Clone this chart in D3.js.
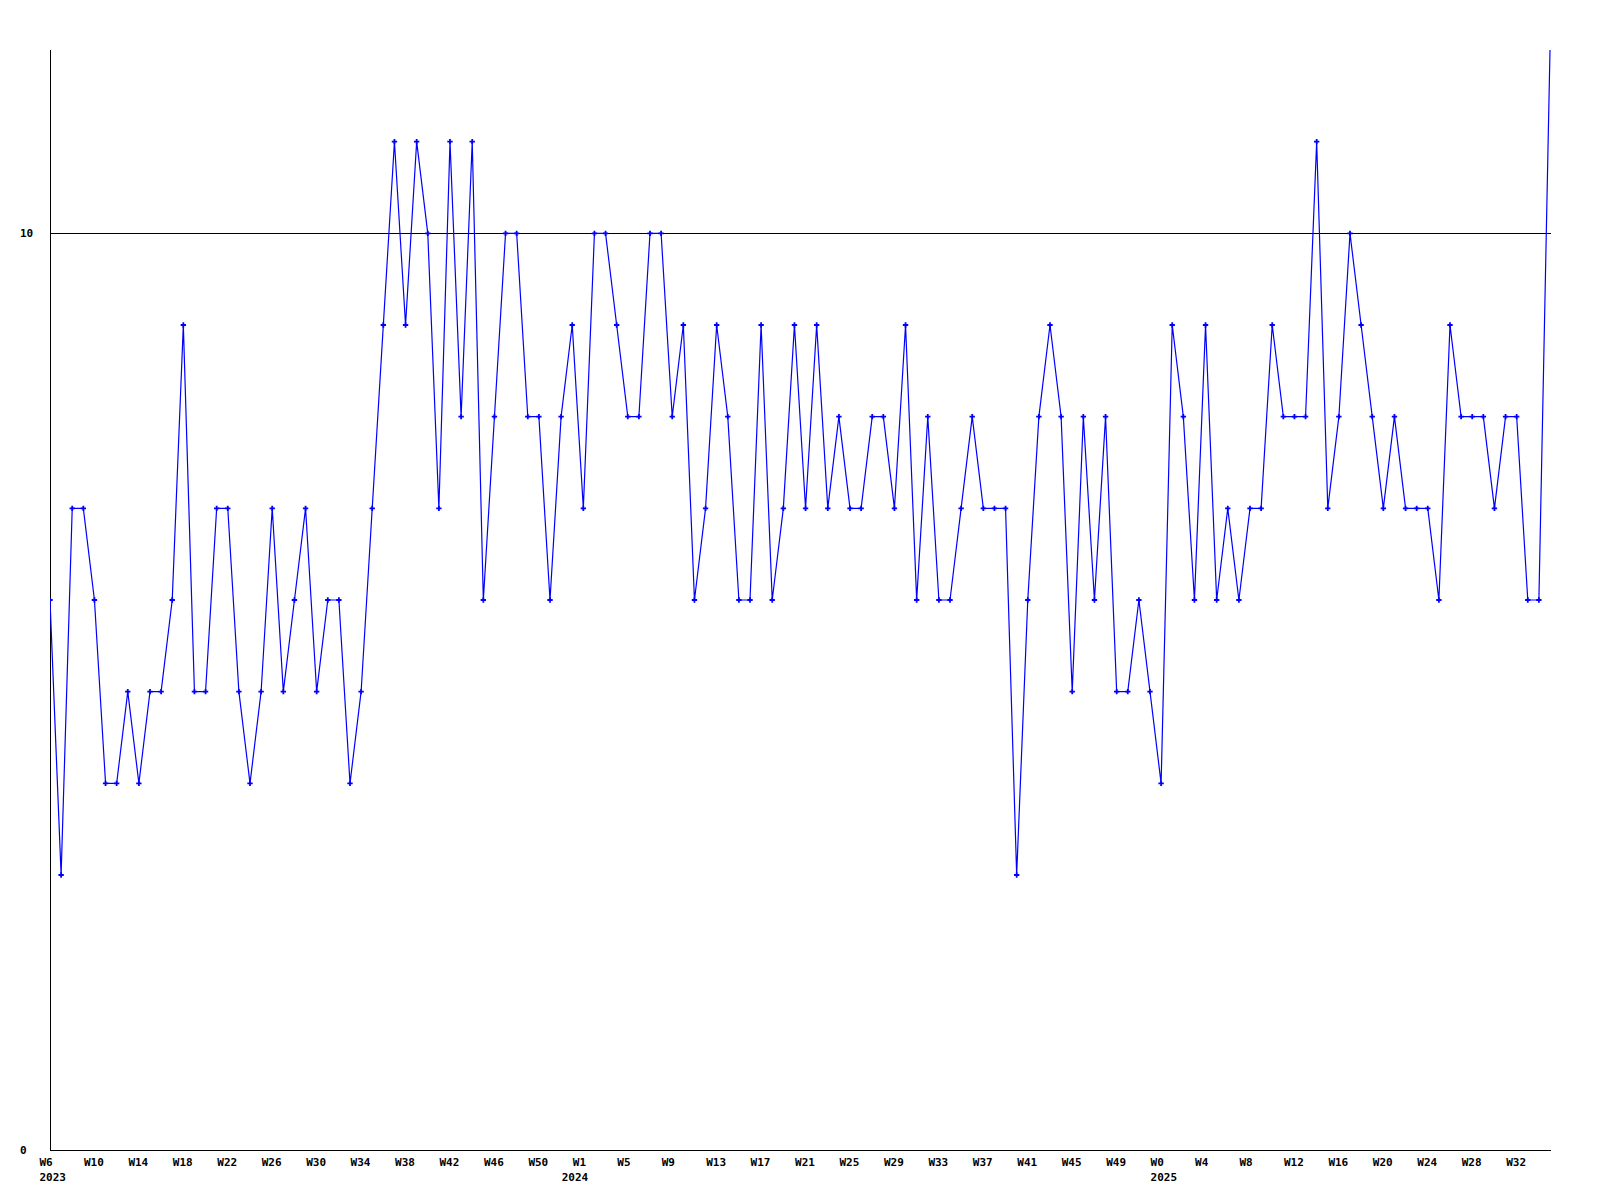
<!DOCTYPE html>
<html>
<head>
<meta charset="utf-8">
<script src="https://cdn.jsdelivr.net/npm/d3@7"></script>
<style>
  html, body { margin: 0; padding: 0; background: #ffffff; }
  svg { display: block; }
  text { font-family: "DejaVu Sans Mono", monospace; font-weight: bold; font-size: 11px; fill: #000; }
</style>
</head>
<body>
<script>
// ---- data ----
const values = [
  6, 3, 7, 7, 6, 4, 4, 5, 4, 5, 5, 6, 9, 5, 5, 7, 7, 5, 4, 5,
  7, 5, 6, 7, 5, 6, 6, 4, 5, 7, 9, 11, 9, 11, 10, 7, 11, 8, 11, 6,
  8, 10, 10, 8, 8, 6, 8, 9, 7, 10, 10, 9, 8, 8, 10, 10, 8, 9, 6, 7,
  9, 8, 6, 6, 9, 6, 7, 9, 7, 9, 7, 8, 7, 7, 8, 8, 7, 9, 6, 8,
  6, 6, 7, 8, 7, 7, 7, 3, 6, 8, 9, 8, 5, 8, 6, 8, 5, 5, 6, 5,
  4, 9, 8, 6, 9, 6, 7, 6, 7, 7, 9, 8, 8, 8, 11, 7, 8, 10, 9, 8,
  7, 8, 7, 7, 7, 6, 9, 8, 8, 8, 7, 8, 8, 6, 6, 12
];
const weekTickLabels = [
  "W6","W10","W14","W18","W22","W26","W30","W34","W38","W42","W46","W50",
  "W1","W5","W9","W13","W17","W21","W25","W29","W33","W37","W41","W45","W49",
  "W0","W4","W8","W12","W16","W20","W24","W28","W32"
];
const weekTickEvery = 4;            // one label every 4 weeks
const yearLabels = ["2023", "2024", "2025"];
const yearLabelWeek = [0, 47, 100]; // week index where each year label sits
const yTickValues = [0, 10];
const yMax = 12;
const refLine = 10;

// ---- layout ----
const W = 1600, H = 1200;
const mLeft = 50, mRight = 1550, mTop = 50, mBottom = 1150;

const svg = d3.select("body").append("svg")
  .attr("width", W).attr("height", H);

const x = d3.scaleLinear().domain([0, values.length - 1]).range([mLeft, mRight]);
const y = d3.scaleLinear().domain([0, yMax]).range([mBottom, mTop]);

svg.append("defs").append("clipPath").attr("id", "plot")
  .append("rect").attr("x", mLeft).attr("y", mTop)
  .attr("width", mRight - mLeft + 2).attr("height", mBottom - mTop);

// reference line at 10
svg.append("line")
  .attr("x1", mLeft).attr("x2", mRight + 1)
  .attr("y1", Math.round(y(refLine)) + 0.5).attr("y2", Math.round(y(refLine)) + 0.5)
  .attr("stroke", "#000").attr("stroke-width", 1).attr("shape-rendering", "crispEdges");

// axes lines
svg.append("line")
  .attr("x1", mLeft + 0.5).attr("x2", mLeft + 0.5)
  .attr("y1", mTop).attr("y2", mBottom + 1)
  .attr("stroke", "#000").attr("stroke-width", 1).attr("shape-rendering", "crispEdges");
svg.append("line")
  .attr("x1", mLeft).attr("x2", mRight + 1)
  .attr("y1", mBottom + 0.5).attr("y2", mBottom + 0.5)
  .attr("stroke", "#000").attr("stroke-width", 1).attr("shape-rendering", "crispEdges");

// y labels
svg.selectAll("text.ylab").data(yTickValues).enter().append("text")
  .attr("class", "ylab")
  .attr("x", 20)
  .attr("y", d => y(d))
  .attr("dy", "0.35em")
  .text(d => d);

// x week labels
svg.selectAll("text.xlab").data(weekTickLabels).enter().append("text")
  .attr("class", "xlab")
  .attr("x", (d, i) => x(i * weekTickEvery) - 10.5)
  .attr("y", 1162)
  .attr("dy", "0.35em")
  .text(d => d);

// year labels
svg.selectAll("text.yearlab").data(yearLabels).enter().append("text")
  .attr("class", "yearlab")
  .attr("x", (d, i) => x(yearLabelWeek[i]) - 10.5)
  .attr("y", 1177)
  .attr("dy", "0.35em")
  .text(d => d);

// data line
const g = svg.append("g").attr("clip-path", "url(#plot)");
const line = d3.line().x((d, i) => x(i)).y(d => y(d));
g.append("path")
  .datum(values)
  .attr("d", line)
  .attr("fill", "none")
  .attr("stroke", "#0000ff")
  .attr("stroke-width", 1.2);

// markers (point at the very top edge is cut off by the frame, as in the reference)
g.selectAll("path.mk").data(values.map((v, i) => ({ v, i })).filter(d => d.v < yMax))
  .enter().append("path")
  .attr("class", "mk")
  .attr("transform", d => `translate(${x(d.i)},${y(d.v)})`)
  .attr("d", d3.symbol().type(d3.symbolCross).size(16))
  .attr("fill", "#0000ff");
</script>
</body>
</html>
